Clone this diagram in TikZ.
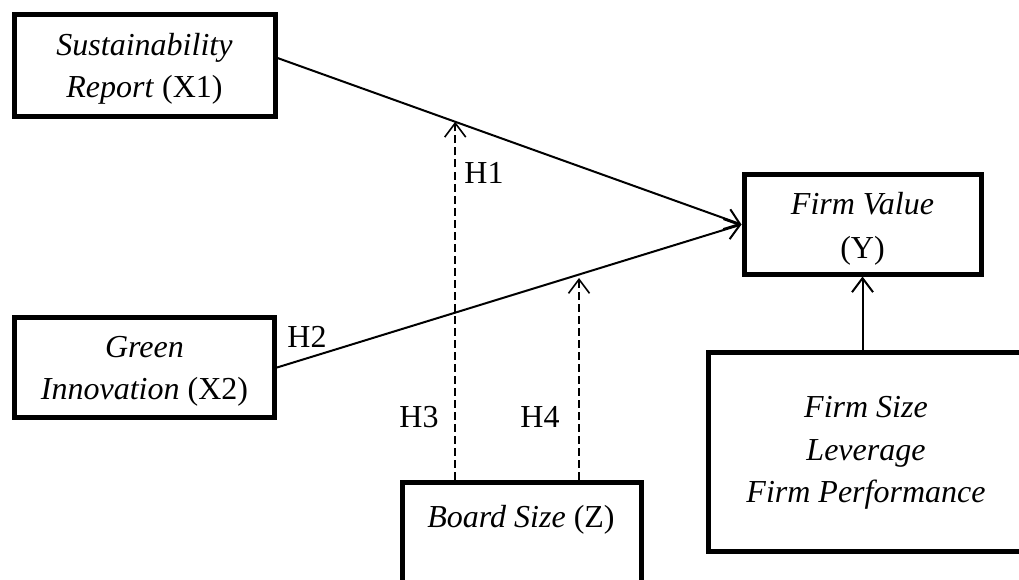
\documentclass[tikz,border=0pt]{standalone}
\usepackage{fontspec}
\setmainfont{Liberation Serif}
\usetikzlibrary{arrows.meta,calc}
\begin{document}
\begin{tikzpicture}[x=1pt,y=-1pt,
  box/.style={draw, line width=5pt, inner sep=0pt},
  txt/.style={align=center, font=\fontsize{32}{42}\selectfont, inner sep=0pt},
  hlab/.style={font=\fontsize{32}{42}\selectfont, inner sep=0pt, anchor=base},
  conn/.style={line width=2pt, -{Straight Barb[length=14pt,width=21pt]}},
  moder/.style={line width=1.6pt, dash pattern=on 8pt off 4pt, -{Straight Barb[length=14pt,width=21pt]}}]
\useasboundingbox (0,0) rectangle (1019,580);
% boxes
\node[box, minimum width=261pt, minimum height=102pt] (x1) at (144.5,66) {};
\node[box, minimum width=260pt, minimum height=100pt] (x2) at (144.5,367.5) {};
\node[box, minimum width=237pt, minimum height=99pt] (y) at (862.5,224.5) {};
\node[box, minimum width=322pt, minimum height=199pt] (ctrl) at (869,451.5) {};
\node[box, minimum width=239pt, minimum height=138pt] (z) at (521.5,551) {};
% texts
\node[txt] (x1t) at (144.5,68.5) {\textit{Sustainability}\\\textit{Report} (X1)};
\node[txt] (x2t) at (144.5,371.5) {\textit{Green}\\\textit{Innovation} (X2)};
\node[txt, font=\fontsize{32}{44}\selectfont] (yt) at (862.5,229) {\textit{Firm Value}\\(Y)};
\node[txt, font=\fontsize{32}{42.5}\selectfont] (ct) at (866,453) {\textit{Firm Size}\\\textit{Leverage}\\\textit{Firm Performance}};
\node[hlab] (zt) at (521,527) {\textit{Board Size} (Z)};
% hypothesis labels
\node[hlab] (h1) at (484,183) {H1};
\node[hlab] (h2) at (307,347) {H2};
\node[hlab] (h3) at (419,427) {H3};
\node[hlab] (h4) at (540,427) {H4};
% connectors
\coordinate (s1) at ([yshift=8pt]x1.east);
\path (s1) -- (y.west) coordinate[pos=0.383] (m1);
\coordinate (m2) at (579,278);
\draw[conn] (s1) -- (y.west);
\draw[conn] (x2.east) -- (y.west);
\draw[conn] (ctrl.north -| y.south) -- (y.south);
\draw[moder] (z.north -| m1) -- (m1);
\draw[moder] (z.north -| m2) -- (m2);
\end{tikzpicture}
\end{document}
